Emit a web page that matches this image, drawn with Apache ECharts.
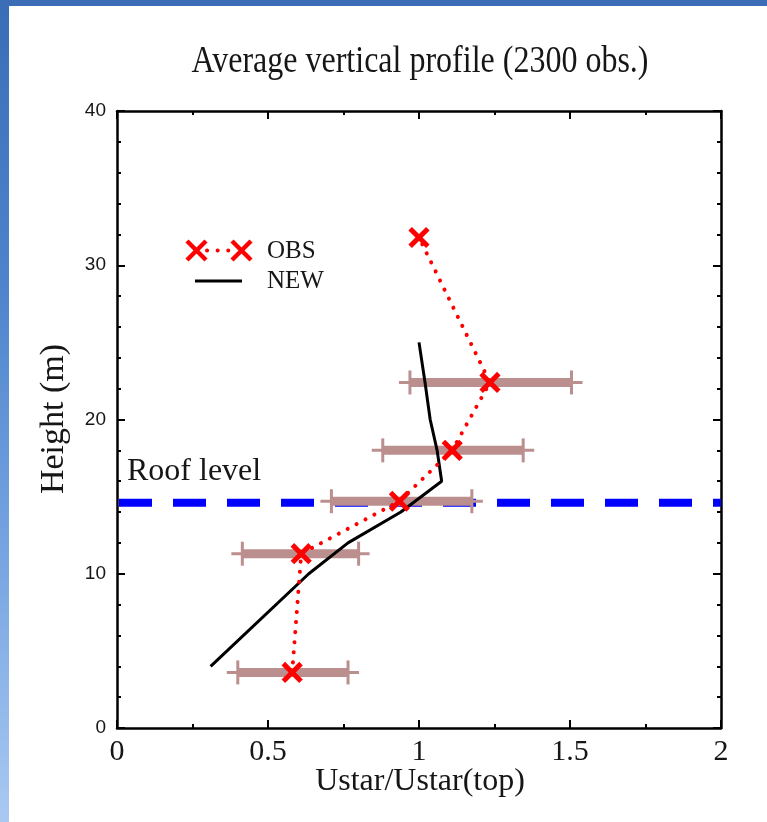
<!DOCTYPE html>
<html>
<head>
<meta charset="utf-8">
<title>Average vertical profile</title>
<script src="https://cdn.jsdelivr.net/npm/echarts@6/dist/echarts.min.js"></script>
<style>
  html, body { margin: 0; padding: 0; }
  body {
    width: 767px; height: 822px; overflow: hidden; position: relative;
    background: linear-gradient(180deg, #3a6db6 0%, #4f84cc 35%, #7aa7e2 70%, #a9c9f2 100%);
  }
  #panel { position: absolute; left: 9px; top: 6px; right: 0; bottom: 0; background: #ffffff; }
  #chart { position: absolute; left: 0; top: 0; width: 767px; height: 822px; }
</style>
</head>
<body>
<div id="panel"></div>
<div id="chart"></div>
<script>
// Observed friction-velocity profile (normalised), with spread bars
const obsHeight = [3.6, 11.3, 14.7, 18.0, 22.4, 31.8];
const obsValue  = [0.58, 0.61, 0.935, 1.11, 1.235, 1.0];
const errLow    = [0.40, 0.415, 0.71, 0.88, 0.97, null];
const errHigh   = [0.765, 0.80, 1.175, 1.345, 1.505, null];

// Modelled profile (NEW scheme)
const newHeight = [4, 10, 12, 14, 16, 18, 20, 22.4, 25];
const newValue  = [0.31, 0.635, 0.765, 0.94, 1.075, 1.06, 1.037, 1.02, 1.0];

// Roof level of the surrounding buildings (m), drawn across the full x range
const roofHeight = 14.6;
const roofSpan = [0, 2];

// Axis tick labels
const xTicks = [0, 0.5, 1, 1.5, 2];
const yTicks = [0, 10, 20, 30, 40];

const serif = '"Liberation Serif", "Times New Roman", serif';
const sans = '"Liberation Sans", Arial, sans-serif';
const ink = '#161616';
const barColor = '#bc8f8f';

const chart = echarts.init(document.getElementById('chart'), null, { renderer: 'canvas' });

const frameAxis = {
  axisLine: { show: true, onZero: false, lineStyle: { color: '#000', width: 2.5 } },
  axisTick: { show: true, inside: true, length: 8, lineStyle: { color: '#000', width: 2 } },
  minorTick: { show: true, length: 4, lineStyle: { color: '#000', width: 2 } },
  splitLine: { show: false },
  minorSplitLine: { show: false }
};

const errData = obsHeight
  .map((h, i) => [errLow[i], errHigh[i], h])
  .filter(d => d[0] !== null);

const crossPath = 'path://M4,0H6V4H10V6H6V10H4V6H0V4H4Z';

chart.setOption({
  backgroundColor: 'transparent',
  animation: false,
  grid: { left: 117, right: 46, top: 111, bottom: 94, containLabel: false },
  xAxis: [
    Object.assign({}, frameAxis, {
      type: 'value', position: 'bottom',
      min: xTicks[0], max: xTicks[xTicks.length - 1], interval: 0.5,
      minorTick: Object.assign({}, frameAxis.minorTick, { splitNumber: 2 }),
      axisLabel: {
        show: true, color: ink, fontFamily: serif, fontSize: 30, margin: 9,
        formatter: v => (xTicks.includes(v) ? String(v) : '')
      }
    }),
    Object.assign({}, frameAxis, {
      type: 'value', position: 'top',
      min: xTicks[0], max: xTicks[xTicks.length - 1], interval: 0.5,
      minorTick: Object.assign({}, frameAxis.minorTick, { splitNumber: 2 }),
      axisLabel: { show: false }
    })
  ],
  yAxis: [
    Object.assign({}, frameAxis, {
      type: 'value', position: 'left',
      min: yTicks[0], max: yTicks[yTicks.length - 1], interval: 10,
      minorTick: Object.assign({}, frameAxis.minorTick, { splitNumber: 5 }),
      axisLabel: {
        show: true, color: ink, fontFamily: sans, fontSize: 19, margin: 11,
        formatter: v => (yTicks.includes(v) ? String(v) : '')
      }
    }),
    Object.assign({}, frameAxis, {
      type: 'value', position: 'right',
      min: yTicks[0], max: yTicks[yTicks.length - 1], interval: 10,
      minorTick: Object.assign({}, frameAxis.minorTick, { splitNumber: 5 }),
      axisLabel: { show: false }
    })
  ],
  graphic: [
    {
      type: 'text', x: 420, y: 62, scaleY: 1.2,
      style: { text: 'Average vertical profile (2300 obs.)', fill: ink, font: '32px ' + serif,
               align: 'center', verticalAlign: 'middle' }
    },
    {
      type: 'text', x: 54, y: 419, rotation: Math.PI / 2,
      style: { text: 'Height (m)', fill: ink, font: '34px ' + serif, align: 'center', verticalAlign: 'middle' }
    },
    {
      type: 'text', x: 420, y: 782,
      style: { text: 'Ustar/Ustar(top)', fill: ink, font: '32px ' + serif, align: 'center', verticalAlign: 'middle' }
    },
    {
      type: 'text', x: 127, y: 472,
      style: { text: 'Roof level', fill: ink, font: '32px ' + serif, verticalAlign: 'middle' }
    },
    // legend: OBS
    { type: 'line', shape: { x1: 187, y1: 241, x2: 206, y2: 260 }, style: { stroke: '#ff0000', lineWidth: 4.5 } },
    { type: 'line', shape: { x1: 206, y1: 241, x2: 187, y2: 260 }, style: { stroke: '#ff0000', lineWidth: 4.5 } },
    { type: 'line', shape: { x1: 232, y1: 241, x2: 251, y2: 260 }, style: { stroke: '#ff0000', lineWidth: 4.5 } },
    { type: 'line', shape: { x1: 251, y1: 241, x2: 232, y2: 260 }, style: { stroke: '#ff0000', lineWidth: 4.5 } },
    { type: 'line', shape: { x1: 207, y1: 250.5, x2: 230, y2: 250.5 },
      style: { stroke: '#ff0000', lineWidth: 4, lineDash: [0.1, 10.5], lineCap: 'round' } },
    { type: 'text', x: 267, y: 251,
      style: { text: 'OBS', fill: ink, font: '25px ' + serif, verticalAlign: 'middle' } },
    // legend: NEW
    { type: 'line', shape: { x1: 195, y1: 281, x2: 242, y2: 281 }, style: { stroke: '#000', lineWidth: 3 } },
    { type: 'text', x: 267, y: 281,
      style: { text: 'NEW', fill: ink, font: '25px ' + serif, verticalAlign: 'middle' } }
  ],
  series: [
    {
      name: 'Roof',
      type: 'line',
      data: roofSpan.map(x => [x, roofHeight]),
      symbol: 'none',
      lineStyle: { color: '#0000ff', width: 8, type: [33, 21], dashOffset: -2 },
      z: 1
    },
    {
      name: 'OBS spread',
      type: 'custom',
      data: errData,
      renderItem: function (params, api) {
        const lo = api.coord([api.value(0), api.value(2)]);
        const hi = api.coord([api.value(1), api.value(2)]);
        const y = lo[1];
        const ext = 11;
        return {
          type: 'group',
          children: [
            { type: 'line', shape: { x1: lo[0] - ext, y1: y, x2: hi[0] + ext, y2: y },
              style: { stroke: barColor, lineWidth: 3 } },
            { type: 'rect', shape: { x: lo[0], y: y - 4.5, width: hi[0] - lo[0], height: 9 },
              style: { fill: barColor } },
            { type: 'line', shape: { x1: lo[0], y1: y - 12, x2: lo[0], y2: y + 12 },
              style: { stroke: barColor, lineWidth: 3 } },
            { type: 'line', shape: { x1: hi[0], y1: y - 12, x2: hi[0], y2: y + 12 },
              style: { stroke: barColor, lineWidth: 3 } }
          ]
        };
      },
      z: 2
    },
    {
      name: 'NEW',
      type: 'line',
      data: newHeight.map((h, i) => [newValue[i], h]),
      showSymbol: false,
      symbol: 'none',
      lineStyle: { color: '#000', width: 3 },
      z: 3
    },
    {
      name: 'OBS',
      type: 'line',
      data: obsHeight.map((h, i) => [obsValue[i], h]),
      symbol: crossPath,
      symbolSize: 25,
      symbolRotate: 45,
      itemStyle: { color: '#ff0000' },
      lineStyle: { color: '#ff0000', width: 4, type: [0.1, 10], cap: 'round' },
      z: 4
    }
  ]
});
</script>
</body>
</html>
